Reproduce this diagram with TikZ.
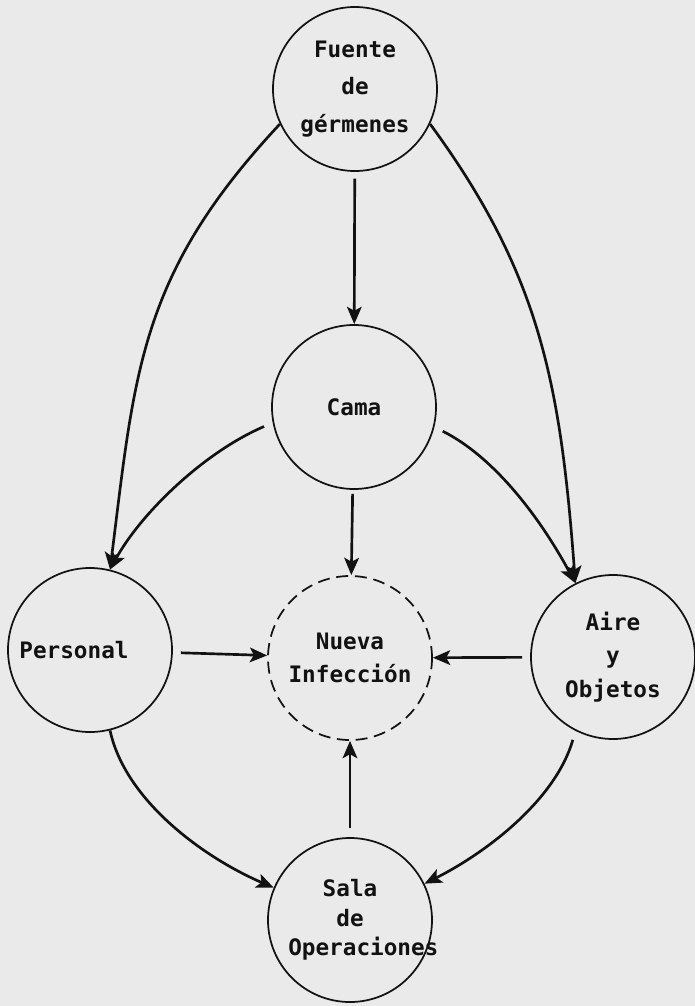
\documentclass[tikz,border=0pt]{standalone}
\usepackage{fontspec}
\setmonofont{DejaVu Sans Mono}
\usepackage{xcolor}
\usetikzlibrary{arrows.meta}
\definecolor{ink}{RGB}{18,18,18}
\definecolor{paper}{RGB}{234,234,234}

\begin{document}
\begin{tikzpicture}[x=0.75pt,y=0.75pt,yscale=-1,xscale=1,
	circ/.style={circle,draw=ink,line width=1.3pt,minimum size=123pt,inner sep=0pt,align=center,text=ink,font=\ttfamily\bfseries\fontsize{17}{25}\selectfont},
	arr/.style={draw=ink,line width=2pt,-{Stealth[length=13pt,width=11pt,inset=3pt]}}]
	%set diagram: width 695, height 1006
	\fill [paper] (0,0) rectangle (695,1006);
	\useasboundingbox (0,0) rectangle (695,1006);

	%Shape: Circle [Fuente]
	\node [circ,font=\ttfamily\bfseries\fontsize{17}{28}\selectfont] (fue) at (355,89) {Fuente\\de\\gérmenes};
	%Shape: Circle [Cama]
	\node [circ] (cama) at (354,407) {Cama};
	%Shape: Circle [Nueva Infeccion]
	\node [circ,dash pattern={on 9pt off 5pt}] (nueva) at (350,658) {Nueva\\Infección};
	%Shape: Circle [Personal]
	\node [circ] (per) at (90,650) {Personal\hspace*{24pt}};
	%Shape: Circle [Aire y Objetos]
	\node [circ] (aire) at (613,657) {Aire\\y\\Objetos};
	%Shape: Circle [Sala de Operaciones]
	\node [circ,font=\ttfamily\bfseries\fontsize{17}{22}\selectfont] (sala) at (350,920) {Sala\\de\\\makebox[0pt]{\hspace*{20pt}Operaciones}};

	%Straight Lines
	\draw [arr,shorten <=5pt] (fue) -- (cama);
	\draw [arr,shorten <=3pt] (cama) -- (nueva);
	\draw [arr,shorten <=6pt] (per) -- (nueva);
	\draw [arr,shorten <=6pt] (aire) -- (nueva);
	\draw [arr,shorten <=7pt] (sala) -- (nueva);

	%Curve Lines
	\draw [arr] (fue.205) .. controls +(-140,150) and +(25,-200) .. (per.76);
	\draw [arr] (fue.-25) .. controls +(110,150) and +(-15,-200) .. (aire.117);
	\draw [arr,shorten <=7pt] (cama.191) .. controls +(-70,30) and +(30,-55) .. (per.76);
	\draw [arr,shorten <=7pt] (cama.-14) .. controls +(60,30) and +(-35,-65) .. (aire.117);
	\draw [arr] (per.-76) .. controls +(15,70) and +(-70,-30) .. (sala.157);
	\draw [arr,shorten <=7pt] (aire.243) .. controls +(-20,70) and +(60,-30) .. (sala.26);

\end{tikzpicture}
\end{document}
